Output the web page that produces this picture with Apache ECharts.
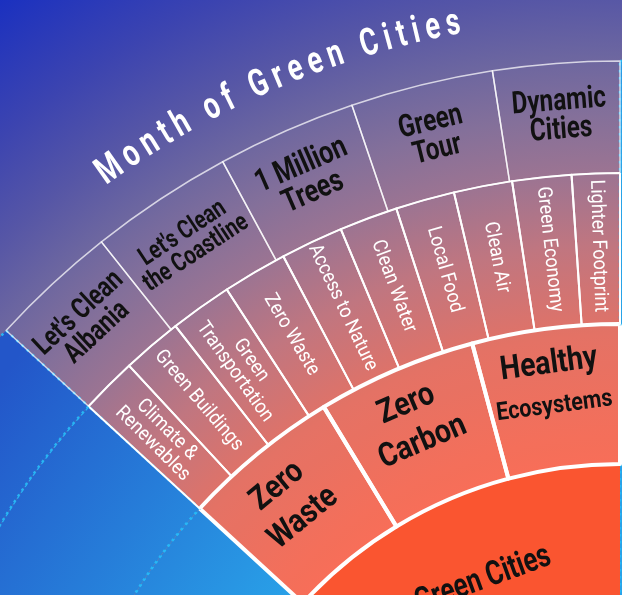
<!DOCTYPE html>
<html><head><meta charset="utf-8">
<script src="https://cdn.jsdelivr.net/npm/echarts@6/dist/echarts.min.js"></script>
<style>
html,body{margin:0;padding:0;overflow:hidden;}
#c{width:622px;height:595px;background:radial-gradient(circle 1300px at 620px 895px,#fa5a3a 0px,#f86e58 430px,#e27266 560px,#c07680 650px,#9c7492 722px,#84709a 780px,#6c66a0 840px,#5656a6 900px,#3c44b0 980px,#1a30c0 1090px);}
</style></head>
<body><div id="c"></div>
<script>
// ---- data ----
const titleText = 'Month of Green Cities';
const centerName = 'Green Cities';
const ring1Names = ['Zero Waste', 'Zero Carbon', 'Healthy Ecosystems'];
const ring1Values = [16.15, 16.25, 15.0];
const ring2Names = ['Climate & Renewables', 'Green Buildings', 'Green Transportation', 'Zero Waste', 'Access to Nature', 'Clean Water', 'Local Food', 'Clean Air', 'Green Economy', 'Lighter Footprint'];
const ring2Values = [4.55, 4.85, 5.0, 5.2, 5.05, 4.7, 4.75, 4.7, 4.75, 3.85];
const ring3Names = ["Let's Clean Albania", "Let's Clean the Coastline", '1 Million Trees', 'Green Tour', 'Dynamic Cities'];
const ring3Values = [8.95, 10.0, 9.7, 9.95, 8.8];

// ---- display ----
const FONT = "Roboto,'Liberation Sans',sans-serif";
const CX = 620, CY = 895;
const ring1Labels = ['Zero\nWaste', 'Zero\nCarbon', '{a|Healthy}\n{b|Ecosystems}'];
const ring2Labels = ['Climate &\nRenewables', 'Green Buildings', 'Green\nTransportation', 'Zero Waste', 'Access to Nature', 'Clean Water', 'Local Food', 'Clean Air', 'Green Economy', 'Lighter Footprint'];
const ring3Labels = ["Let's Clean\nAlbania", "Let's Clean\nthe Coastline", '1 Million\nTrees', 'Green\nTour', 'Dynamic\nCities'];
const ring3Sizes = [29, 26, 32, 31, 31];

const sum = a => a.reduce((s, v) => s + v, 0);
const blue = () => new echarts.graphic.LinearGradient(0, 380, 300, 595,
  [{offset: 0, color: '#2356c9'}, {offset: 1, color: '#29a2e8'}], true);
function filler(total) {
  return {
    name: '', value: 360 - total, label: {show: false},
    itemStyle: {color: blue(), borderColor: 'rgba(40,185,245,0.95)', borderWidth: 2.5, borderType: [2.5, 4.5]}
  };
}
function outward(dist) {
  return p => {
    const r = p.labelRect;
    const x = r.x + r.width / 2 - CX, y = r.y + r.height / 2 - CY;
    const l = Math.sqrt(x * x + y * y) || 1;
    return {dx: x / l * dist, dy: y / l * dist};
  };
}
function ring(radius, names, values, labels, itemStyle, label, sizes, shift) {
  const data = [filler(sum(values))];
  names.forEach((n, i) => {
    const d = {name: n, value: values[i]};
    if (sizes) d.label = {fontSize: sizes[i], lineHeight: sizes[i] * 0.92};
    data.push(d);
  });
  const s = {
    type: 'pie', center: [CX, CY], radius, startAngle: 90, clockwise: true,
    animation: false, silent: true, avoidLabelOverlap: false,
    labelLine: {show: false}, itemStyle,
    label: Object.assign({position: 'inside', fontFamily: FONT, formatter: p => labels[p.dataIndex - 1]}, label),
    data
  };
  if (shift) s.labelLayout = outward(shift);
  return s;
}

const chart = echarts.init(document.getElementById('c'));

const TITLE_SCALE = 0.72;
function titleGraphic() {
  const ctx = document.createElement('canvas').getContext('2d');
  const fs = 38;
  ctx.font = `bold ${fs}px ${FONT}`;
  const chars = [...titleText];
  const ws = chars.map(ch => ctx.measureText(ch).width * TITLE_SCALE);
  const r = 886, a0 = 125.9, a1 = 100.4;
  const arc = (a0 - a1) * Math.PI / 180 * r;
  const sp = (arc - sum(ws)) / (chars.length - 1);
  let pos = 0;
  return chars.map((ch, i) => {
    const mid = pos + ws[i] / 2;
    pos += ws[i] + sp;
    const ang = (a0 - mid / r * 180 / Math.PI) * Math.PI / 180;
    return {
      type: 'text', x: CX + r * Math.cos(ang), y: CY - r * Math.sin(ang),
      rotation: ang - Math.PI / 2, scaleX: TITLE_SCALE, silent: true,
      style: {text: ch, fontSize: fs, fontWeight: 'bold', fontFamily: FONT, fill: '#fff',
        align: 'center', verticalAlign: 'middle', textAlign: 'center', textVerticalAlign: 'middle'}
    };
  });
}

chart.setOption({
  animation: false,
  series: [
    ring([260, 430], [centerName], [sum(ring1Values)], [centerName],
      {color: '#fa5530', borderWidth: 0},
      {rotate: 20, color: '#111', fontSize: 34, fontWeight: 'bold'}, null, -5),
    ring([431, 571], ring1Names, ring1Values, ring1Labels,
      {color: 'rgba(255,120,90,0.08)', borderColor: '#fff', borderWidth: 4},
      {rotate: 'tangential', color: '#111', fontSize: 33, fontWeight: 'bold', lineHeight: 41,
        rich: {a: {fontSize: 33, fontWeight: 'bold', fontFamily: FONT, color: '#111', lineHeight: 44},
               b: {fontSize: 25, fontWeight: 'bold', fontFamily: FONT, color: '#111', lineHeight: 40}}}, null, 11),
    ring([571, 722], ring2Names, ring2Values, ring2Labels,
      {color: 'rgba(0,0,0,0)', borderColor: '#fff', borderWidth: 2},
      {rotate: 'radial', color: '#fff', fontSize: 20, lineHeight: 20}),
    ring([722, 834], ring3Names, ring3Values, ring3Labels,
      {color: 'rgba(0,0,0,0)', borderColor: 'rgba(255,255,255,0.72)', borderWidth: 1.5},
      {rotate: 'tangential', color: '#111', fontWeight: 'bold'}, ring3Sizes, 0)
  ],
  graphic: {elements: titleGraphic()}
});

// condensed look (the reference uses a condensed face): squeeze label glyphs horizontally
(function condense() {
  const scales = [0.76, 0.86, 0.9, 0.78];
  try {
    const model = chart.getModel();
    model.eachSeries((s, si) => {
      const data = s.getData();
      data.each(idx => {
        if (idx === 0) return;
        const el = data.getItemGraphicEl(idx);
        const t = el && el.getTextContent && el.getTextContent();
        if (t) { t.scaleX = scales[si]; t.ignore = false; t.markRedraw(); }
      });
    });
  } catch (e) {}
  chart.getZr().refreshImmediately();
})();
</script>
</body></html>
